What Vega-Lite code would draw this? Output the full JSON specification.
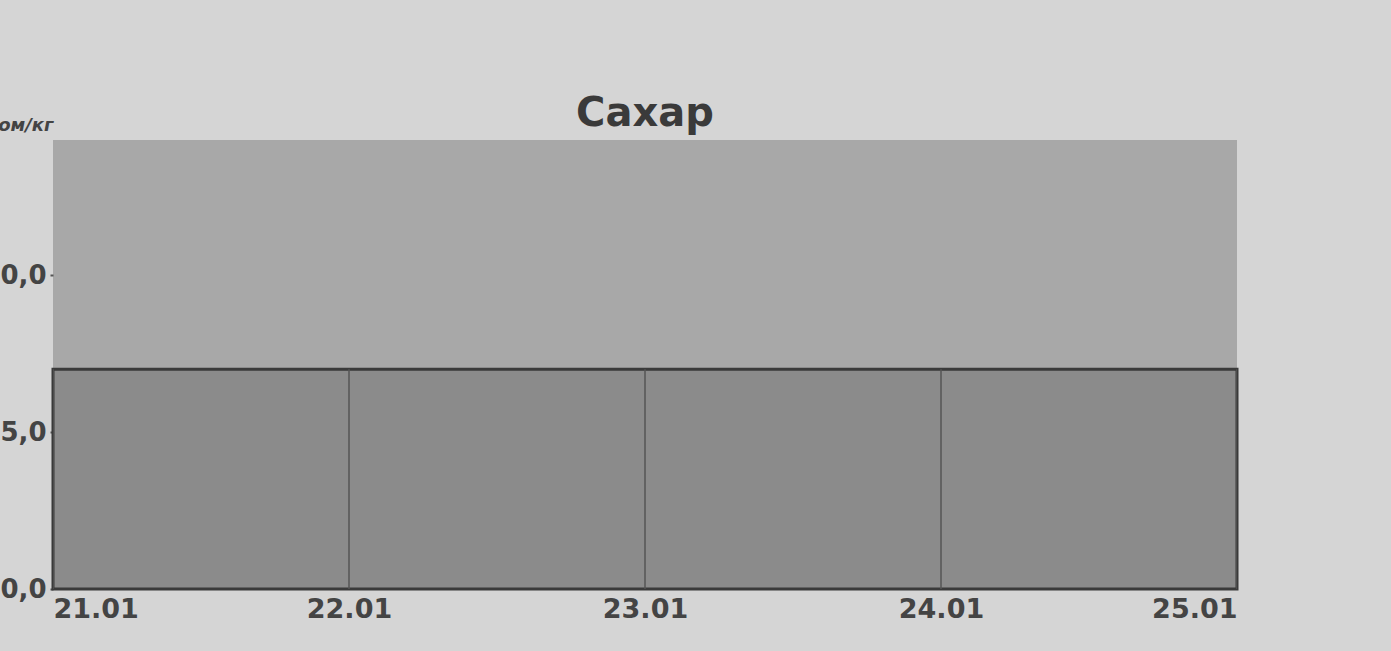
{
  "$schema": "https://vega.github.io/schema/vega-lite/v6.json",
  "autosize": "none",
  "width": 1184,
  "height": 449,
  "padding": {"left": 53, "top": 140, "right": 154, "bottom": 62},
  "background": "#d5d5d5",
  "title": {
    "text": "Сахар",
    "anchor": "middle",
    "font": "DejaVu Sans",
    "fontWeight": "bold",
    "fontSize": 40,
    "color": "#3a3a3a",
    "baseline": "alphabetic",
    "offset": 11,
    "dy": 61
  },
  "config": {
    "view": {"stroke": null, "fill": "#a8a8a8"},
    "axis": {"labelFont": "DejaVu Sans", "labelFontWeight": "bold", "labelColor": "#444444", "grid": false, "domain": false}
  },
  "data": {
    "values": [
      {"date": "2012-01-21", "price": 37.0},
      {"date": "2012-01-22", "price": 37.0},
      {"date": "2012-01-23", "price": 37.0},
      {"date": "2012-01-24", "price": 37.0},
      {"date": "2012-01-25", "price": 37.0}
    ]
  },
  "encoding": {
    "x": {
      "field": "date",
      "type": "temporal",
      "scale": {"type": "utc", "nice": false, "padding": 0},
      "axis": {
        "title": null,
        "labelExpr": "utcFormat(datum.value, '%d.%m')",
        "values": [
          {"year": 2012, "month": 1, "date": 21, "utc": true},
          {"year": 2012, "month": 1, "date": 22, "utc": true},
          {"year": 2012, "month": 1, "date": 23, "utc": true},
          {"year": 2012, "month": 1, "date": 24, "utc": true},
          {"year": 2012, "month": 1, "date": 25, "utc": true}
        ],
        "labelFontSize": 27,
        "labelFlush": true,
        "labelPadding": 7,
        "ticks": false
      }
    },
    "y": {
      "field": "price",
      "type": "quantitative",
      "scale": {"domain": [30, 44.3], "nice": false, "zero": false},
      "axis": {
        "title": "сом/кг",
        "titleAngle": 0,
        "titleAlign": "right",
        "titleBaseline": "alphabetic",
        "titleX": 0,
        "titleY": -10,
        "titleFont": "DejaVu Sans",
        "titleFontWeight": "bold",
        "titleFontStyle": "italic",
        "titleFontSize": 18,
        "titleColor": "#444444",
        "values": [30, 35, 40],
        "labelExpr": "replace(format(datum.value, '.1f'), '.', ',')",
        "labelFontSize": 26,
        "labelPadding": 4,
        "tickSize": 3,
        "tickColor": "#555555",
        "tickWidth": 2
      }
    }
  },
  "layer": [
    {
      "mark": {"type": "area", "fill": "#8b8b8b", "stroke": "#3a3a3a", "strokeWidth": 3, "clip": false},
      "encoding": {"y2": {"datum": 30}}
    },
    {
      "mark": {"type": "rule", "color": "#555555", "strokeWidth": 1.5, "clip": true},
      "encoding": {"y2": {"datum": 30}}
    }
  ]
}
